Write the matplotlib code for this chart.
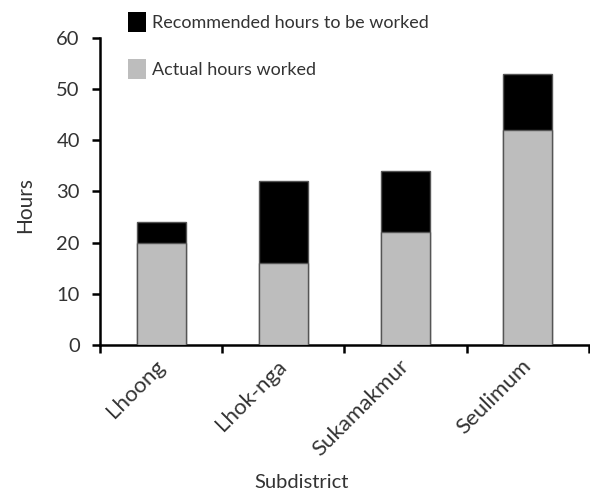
import numpy as np
import matplotlib
matplotlib.use('Agg')
import matplotlib.pyplot as plt
from matplotlib.patches import Patch

subdistricts = ["Lhoong", "Lhok-nga", "Sukamakmur", "Seulimum"]
recommended = [24, 32, 34, 53]
actual = [20, 16, 22, 42]

plt.rcParams['font.family'] = ['Lato', 'DejaVu Sans']

fig = plt.figure(figsize=(5.9, 4.92), dpi=100)
ax = fig.add_axes([0.1695, 0.2988, 0.8285, 0.6240])

x = np.arange(len(subdistricts))
ax.bar(x, recommended, width=0.4, color='black', edgecolor='#555555', linewidth=1.0, zorder=2)
ax.bar(x, actual, width=0.4, color='#bdbdbd', edgecolor='#555555', linewidth=1.0, zorder=3)

ax.set_xlim(-0.5, len(subdistricts) - 0.5)
ax.set_ylim(0, 60)
ax.set_yticks(range(0, 61, 10))
ax.set_xticks(np.arange(-0.5, len(subdistricts)))
ax.set_xticklabels([])
ax.set_xticks(x, minor=True)
ax.set_xticklabels(subdistricts, minor=True, rotation=45, ha='right', va='center',
                   rotation_mode='anchor')

for s in ['top', 'right']:
    ax.spines[s].set_visible(False)
for s in ['left', 'bottom']:
    ax.spines[s].set_linewidth(1.8)
ax.tick_params(which='major', direction='out', length=6, width=1.8, colors='black')
ax.tick_params(axis='y', labelsize=14.5, labelcolor='#333333', pad=8.5)
ax.tick_params(axis='x', which='minor', length=0, labelsize=16, labelcolor='#333333', pad=13)

fig.text(25 / 590, 1 - 205 / 492, "Hours", rotation=90, ha='center', va='center',
         fontsize=15, color='#333333')
fig.text(302 / 590, 1 - 483 / 492, "Subdistrict", ha='center', va='center',
         fontsize=14.5, color='#333333')

handles = [Patch(facecolor='black', edgecolor='none', label='Recommended hours to be worked'),
           Patch(facecolor='#bdbdbd', edgecolor='none', label='Actual hours worked')]
leg = fig.legend(handles=handles, loc='upper left', bbox_to_anchor=(0.19, 1.008), frameon=False,
                 fontsize=13, handlelength=1.0, handleheight=1.3, labelspacing=1.5, handletextpad=0.3)
for t in leg.get_texts():
    t.set_color('#333333')

fig.savefig("out.png", dpi=100)
